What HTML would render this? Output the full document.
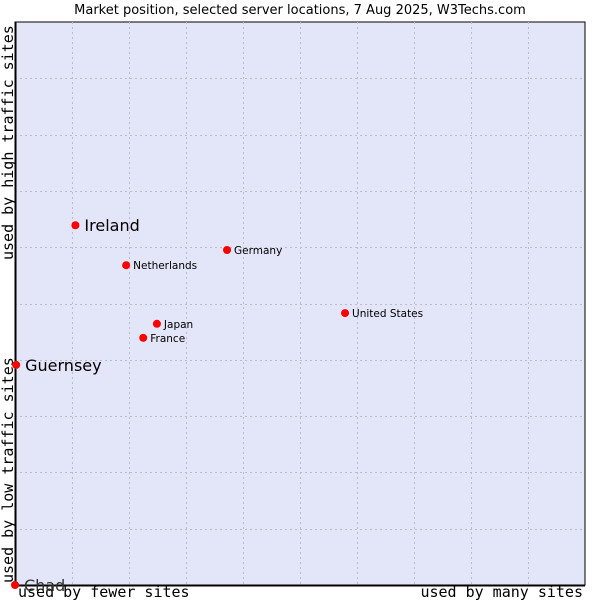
<!DOCTYPE html>
<html><head><meta charset="utf-8"><style>
html,body{margin:0;padding:0;background:#fff;width:600px;height:600px;overflow:hidden}
text{font-family:"DejaVu Sans","Liberation Sans",sans-serif}
.mono{font-family:"DejaVu Sans Mono","Liberation Mono",monospace}
</style></head><body>
<svg id="chart" width="600" height="600" xmlns="http://www.w3.org/2000/svg">
<text x="300" y="14" text-anchor="middle" font-size="13" fill="#000">Market position, selected server locations, 7 Aug 2025, W3Techs.com</text>
<rect x="15" y="22" width="570" height="563" fill="#e3e5f8" stroke="#000" stroke-width="1"/>
<g id="grid"></g>
<line x1="15.5" y1="22" x2="15.5" y2="585" stroke="#000" stroke-width="2"/>
<line x1="15" y1="585.5" x2="585" y2="585.5" stroke="#000" stroke-width="2"/>
<text class="mono" transform="translate(13,260) rotate(-90)" font-size="15" fill="#000">used by high traffic sites</text>
<text class="mono" transform="translate(13,583) rotate(-90)" font-size="15" fill="#000">used by low traffic sites</text>
<text class="mono" x="18" y="597" font-size="15" fill="#000">used by fewer sites</text>
<text class="mono" x="583" y="597" text-anchor="end" font-size="15" fill="#000">used by many sites</text>
<g id="points"></g>
</svg>
<script>
const countries = ["Ireland","Netherlands","Germany","United States","Japan","France","Guernsey","Chad"];
const xValues = [1.06, 1.95, 3.72, 5.79, 2.49, 2.25, 0.02, 0.0];
const yValues = [6.39, 5.68, 5.95, 4.83, 4.64, 4.39, 3.91, 0.0];
const bigLabel = [true, false, false, false, false, false, true, true];
const NS = "http://www.w3.org/2000/svg";
const X0 = 15, X1 = 585, Y0 = 585, Y1 = 22;
function sx(v){ return X0 + v / 10 * (X1 - X0); }
function sy(v){ return Y0 - v / 10 * (Y0 - Y1); }
const grid = document.getElementById("grid");
for (let i = 1; i < 10; i++) {
  const v = document.createElementNS(NS, "line");
  
  
  const gx = Math.round(sx(i)) + 0.5;
  v.setAttribute("x1", gx); v.setAttribute("x2", gx);
  v.setAttribute("y1", Y1); v.setAttribute("y2", Y0);
  v.setAttribute("stroke", "#bcbcc4"); v.setAttribute("stroke-dasharray", "2,3");
  grid.appendChild(v);
  const h = document.createElementNS(NS, "line");
  
  
  const gy = Math.round(sy(i)) + 0.5;
  h.setAttribute("x1", X0); h.setAttribute("x2", X1);
  h.setAttribute("y1", gy); h.setAttribute("y2", gy);
  h.setAttribute("stroke", "#bcbcc4"); h.setAttribute("stroke-dasharray", "2,3");
  grid.appendChild(h);
}
const pts = document.getElementById("points");
countries.forEach((c, i) => {
  const px = sx(xValues[i]), py = sy(yValues[i]);
  const dot = document.createElementNS(NS, "circle");
  
  
  dot.setAttribute("cx", px); dot.setAttribute("cy", py); dot.setAttribute("r", 4);
  dot.setAttribute("fill", "#ff0000");
  pts.appendChild(dot);
  const t = document.createElementNS(NS, "text");
  
  
  const big = bigLabel[i];
  t.setAttribute("x", px + (big ? 9 : 7));
  t.setAttribute("y", py + (big ? 6 : 4));
  t.setAttribute("font-size", big ? 16 : 10.5);
  t.setAttribute("fill", c === "Chad" ? "#333" : "#000");
  t.textContent = c;
  pts.appendChild(t);
});
</script>
</body></html>
